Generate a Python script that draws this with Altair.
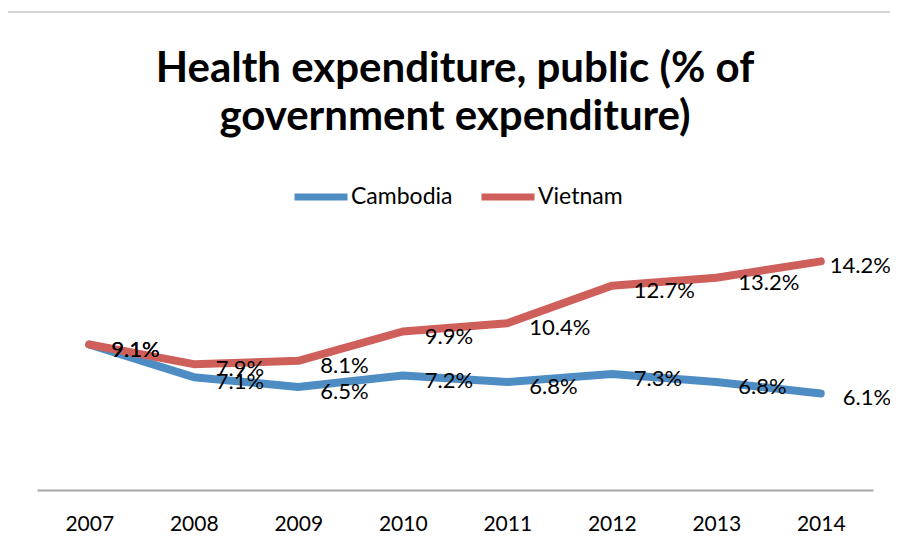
import altair as alt
import pandas as pd

years = ["2007", "2008", "2009", "2010", "2011", "2012", "2013", "2014"]
cambodia = [9.1, 7.1, 6.5, 7.2, 6.8, 7.3, 6.8, 6.1]
vietnam = [9.1, 7.9, 8.1, 9.9, 10.4, 12.7, 13.2, 14.2]
countries = ["Cambodia", "Vietnam"]
colors = ["#4e8cc4", "#cf5f5b"]

rows = []
for name, vals in zip(countries, [cambodia, vietnam]):
    for y, v in zip(years, vals):
        rows.append({"year": y, "country": name, "value": v, "label": f"{v:.1f}%"})
df = pd.DataFrame(rows)

FONT = "Lato"

x = alt.X("year:O", title=None,
          scale=alt.Scale(type="point", padding=0.5),
          axis=alt.Axis(labelAngle=0, ticks=False, domainColor="#a6a6a6", domainWidth=2,
                        labelFont=FONT, labelFontSize=21, labelColor="#000000",
                        labelPadding=23, grid=False, offset=-3))
y = alt.Y("value:Q", title=None, scale=alt.Scale(domain=[0, 16], nice=False), axis=None)

base = alt.Chart(df)

lines = base.mark_line(strokeWidth=8, strokeCap="round", strokeJoin="round").encode(
    x=x, y=y,
    color=alt.Color("country:N", title=None,
                    scale=alt.Scale(domain=countries, range=colors),
                    legend=alt.Legend(orient="none", legendX=254, legendY=-65,
                                      direction="horizontal", symbolType="stroke",
                                      symbolSize=2809, symbolStrokeWidth=7,
                                      labelFont=FONT, labelFontSize=23, labelColor="#000000",
                                      labelOffset=0, columnPadding=14)),
)

labels = base.mark_text(align="left", baseline="middle", dx=22, dy=5,
                        font=FONT, fontSize=22, color="#000000").encode(
    x=x, y=y, text="label:N"
).transform_filter("!(datum.country == 'Vietnam' && datum.year == '2014')")

label_last = base.mark_text(align="left", baseline="middle", dx=9, dy=5,
                            font=FONT, fontSize=22, color="#000000").encode(
    x=x, y=y, text="label:N"
).transform_filter("datum.country == 'Vietnam' && datum.year == '2014'")

top_rule = alt.Chart(pd.DataFrame({"a": [0]})).mark_rule(color="#d4d4d4", strokeWidth=2).encode(
    x=alt.value(-32), x2=alt.value(870), y=alt.value(-220)
)

chart = alt.layer(top_rule, lines, labels, label_last).properties(
    width=836, height=261,
    title=alt.TitleParams(["Health expenditure, public (% of", "government expenditure)"],
                          font=FONT, fontSize=42, fontWeight="bold", color="#000000",
                          anchor="middle", lineHeight=48, baseline="alphabetic",
                          offset=-161),
    autosize=alt.AutoSizeParams(type="none"),
    padding={"left": 29, "top": 224, "right": 17, "bottom": 48},
).configure_view(stroke=None)

chart.save("out.html", embed_options={"renderer": "svg", "actions": False})
